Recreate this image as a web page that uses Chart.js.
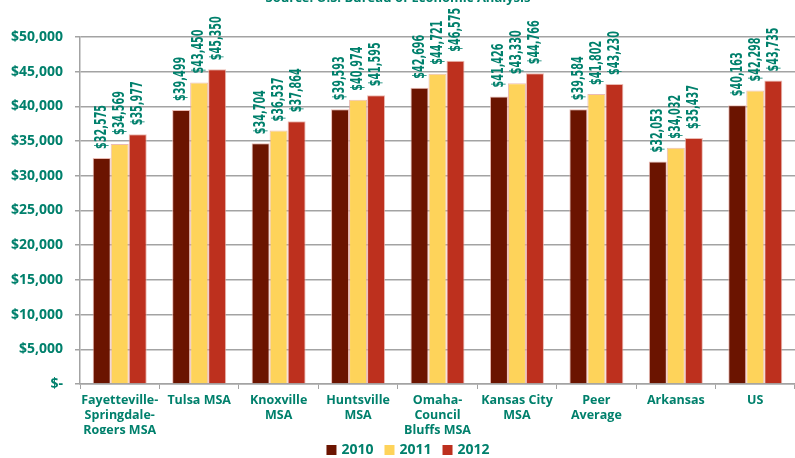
<!DOCTYPE html>
<html>
<head>
<meta charset="utf-8">
<script src="https://cdn.jsdelivr.net/npm/chart.js@4"></script>
<style>
  html, body { margin:0; padding:0; background:#fff; overflow:hidden; }
  #wrap { position:relative; top:-10px; width:795px; height:468px; }
</style>
</head>
<body>
<div id="wrap"><canvas id="chart" width="795" height="468"></canvas></div>
<script>
const categories = [
  ['Fayetteville-', 'Springdale-', 'Rogers MSA'],
  'Tulsa MSA',
  ['Knoxville', 'MSA'],
  ['Huntsville', 'MSA'],
  ['Omaha-', 'Council', 'Bluffs MSA'],
  ['Kansas City', 'MSA'],
  ['Peer', 'Average'],
  'Arkansas',
  'US'
];
const years = ['2010', '2011', '2012'];
const values2010 = [32575, 39499, 34704, 39593, 42696, 41426, 39584, 32053, 40163];
const values2011 = [34569, 43450, 36537, 40974, 44721, 43330, 41802, 34032, 42298];
const values2012 = [35977, 45350, 37864, 41595, 46575, 44766, 43230, 35437, 43735];
const colors = ['#6b1400', '#fed35a', '#bd301e'];
const teal = '#00806c';
const font = '"Open Sans", "DejaVu Sans", sans-serif';
const narrow = '"Liberation Sans Narrow", "DejaVu Sans Condensed", sans-serif';

const money = v => '$' + v.toLocaleString('en-US');

// vertical value labels above each bar (condensed look)
const barLabels = {
  id: 'barLabels',
  afterDatasetsDraw(chart){
    const ctx = chart.ctx;
    ctx.save();
    ctx.fillStyle = teal;
    ctx.font = 'bold 16.5px ' + narrow;
    ctx.textAlign = 'left';
    ctx.textBaseline = 'middle';
    chart.data.datasets.forEach((ds, i) => {
      chart.getDatasetMeta(i).data.forEach((bar, j) => {
        const txt = money(ds.data[j]);
        const w = ctx.measureText(txt).width;
        ctx.save();
        ctx.translate(bar.x, bar.y - 9);
        ctx.rotate(-Math.PI / 2);
        ctx.scale(44 / w, 1);
        ctx.fillText(txt, 0, 0);
        ctx.restore();
      });
    });
    ctx.restore();
  }
};

// source line (cut off by the top edge) and the legend row
const extras = {
  id: 'extras',
  afterDraw(chart){
    const ctx = chart.ctx;
    ctx.save();
    ctx.fillStyle = teal;
    ctx.font = 'bold 13px ' + font;
    ctx.textAlign = 'center';
    ctx.textBaseline = 'alphabetic';
    ctx.fillText('Source: U.S. Bureau of Economic Analysis', 398, 11.5);

    ctx.font = 'bold 14px ' + font;
    ctx.textAlign = 'left';
    ctx.textBaseline = 'middle';
    const box = 10, gap = 5, space = 11;
    const ds = chart.data.datasets;
    const widths = ds.map(d => box + gap + ctx.measureText(d.label).width);
    const total = widths.reduce((a, b) => a + b, 0) + space * (ds.length - 1);
    let x = 408 - total / 2;
    const y = 460;
    ds.forEach((d, i) => {
      ctx.fillStyle = d.backgroundColor;
      ctx.fillRect(x, y - box / 2, box, box);
      ctx.fillStyle = teal;
      ctx.fillText(d.label, x + box + gap, y);
      x += widths[i] + space;
    });
    ctx.restore();
  }
};

new Chart(document.getElementById('chart').getContext('2d'), {
  type: 'bar',
  data: {
    labels: categories,
    datasets: [values2010, values2011, values2012].map((d, i) => ({
      label: years[i],
      data: d,
      backgroundColor: colors[i],
      borderColor: 'rgba(230,170,160,0.8)',
      borderWidth: 1,
      categoryPercentage: 0.68,
      barPercentage: 1
    }))
  },
  options: {
    responsive: false,
    animation: false,
    layout: { padding: { top: 47, right: 0, left: 0, bottom: 24 } },
    plugins: {
      legend: { display: false },
      tooltip: { enabled: false }
    },
    scales: {
      y: {
        min: 0,
        max: 50000,
        afterFit(s){ s.width = 80; },
        ticks: {
          stepSize: 5000,
          color: teal,
          padding: 12,
          font: { family: font, weight: 'bold', size: 14 },
          callback: v => v === 0 ? '$-' : money(v)
        },
        grid: { color: '#a3a3a3', lineWidth: 1.5, tickLength: 5 },
        border: { color: '#a3a3a3', width: 1.5 }
      },
      x: {
        afterFit(s){ s.height = 50; },
        ticks: {
          color: teal,
          maxRotation: 0,
          autoSkip: false,
          padding: 4,
          font: { family: font, weight: 'bold', size: 12.5, lineHeight: 1.2 }
        },
        grid: { drawOnChartArea: false, color: '#a3a3a3', tickLength: 5, offset: true },
        border: { color: '#a3a3a3', width: 1.5 }
      }
    }
  },
  plugins: [barLabels, extras]
});
</script>
</body>
</html>
